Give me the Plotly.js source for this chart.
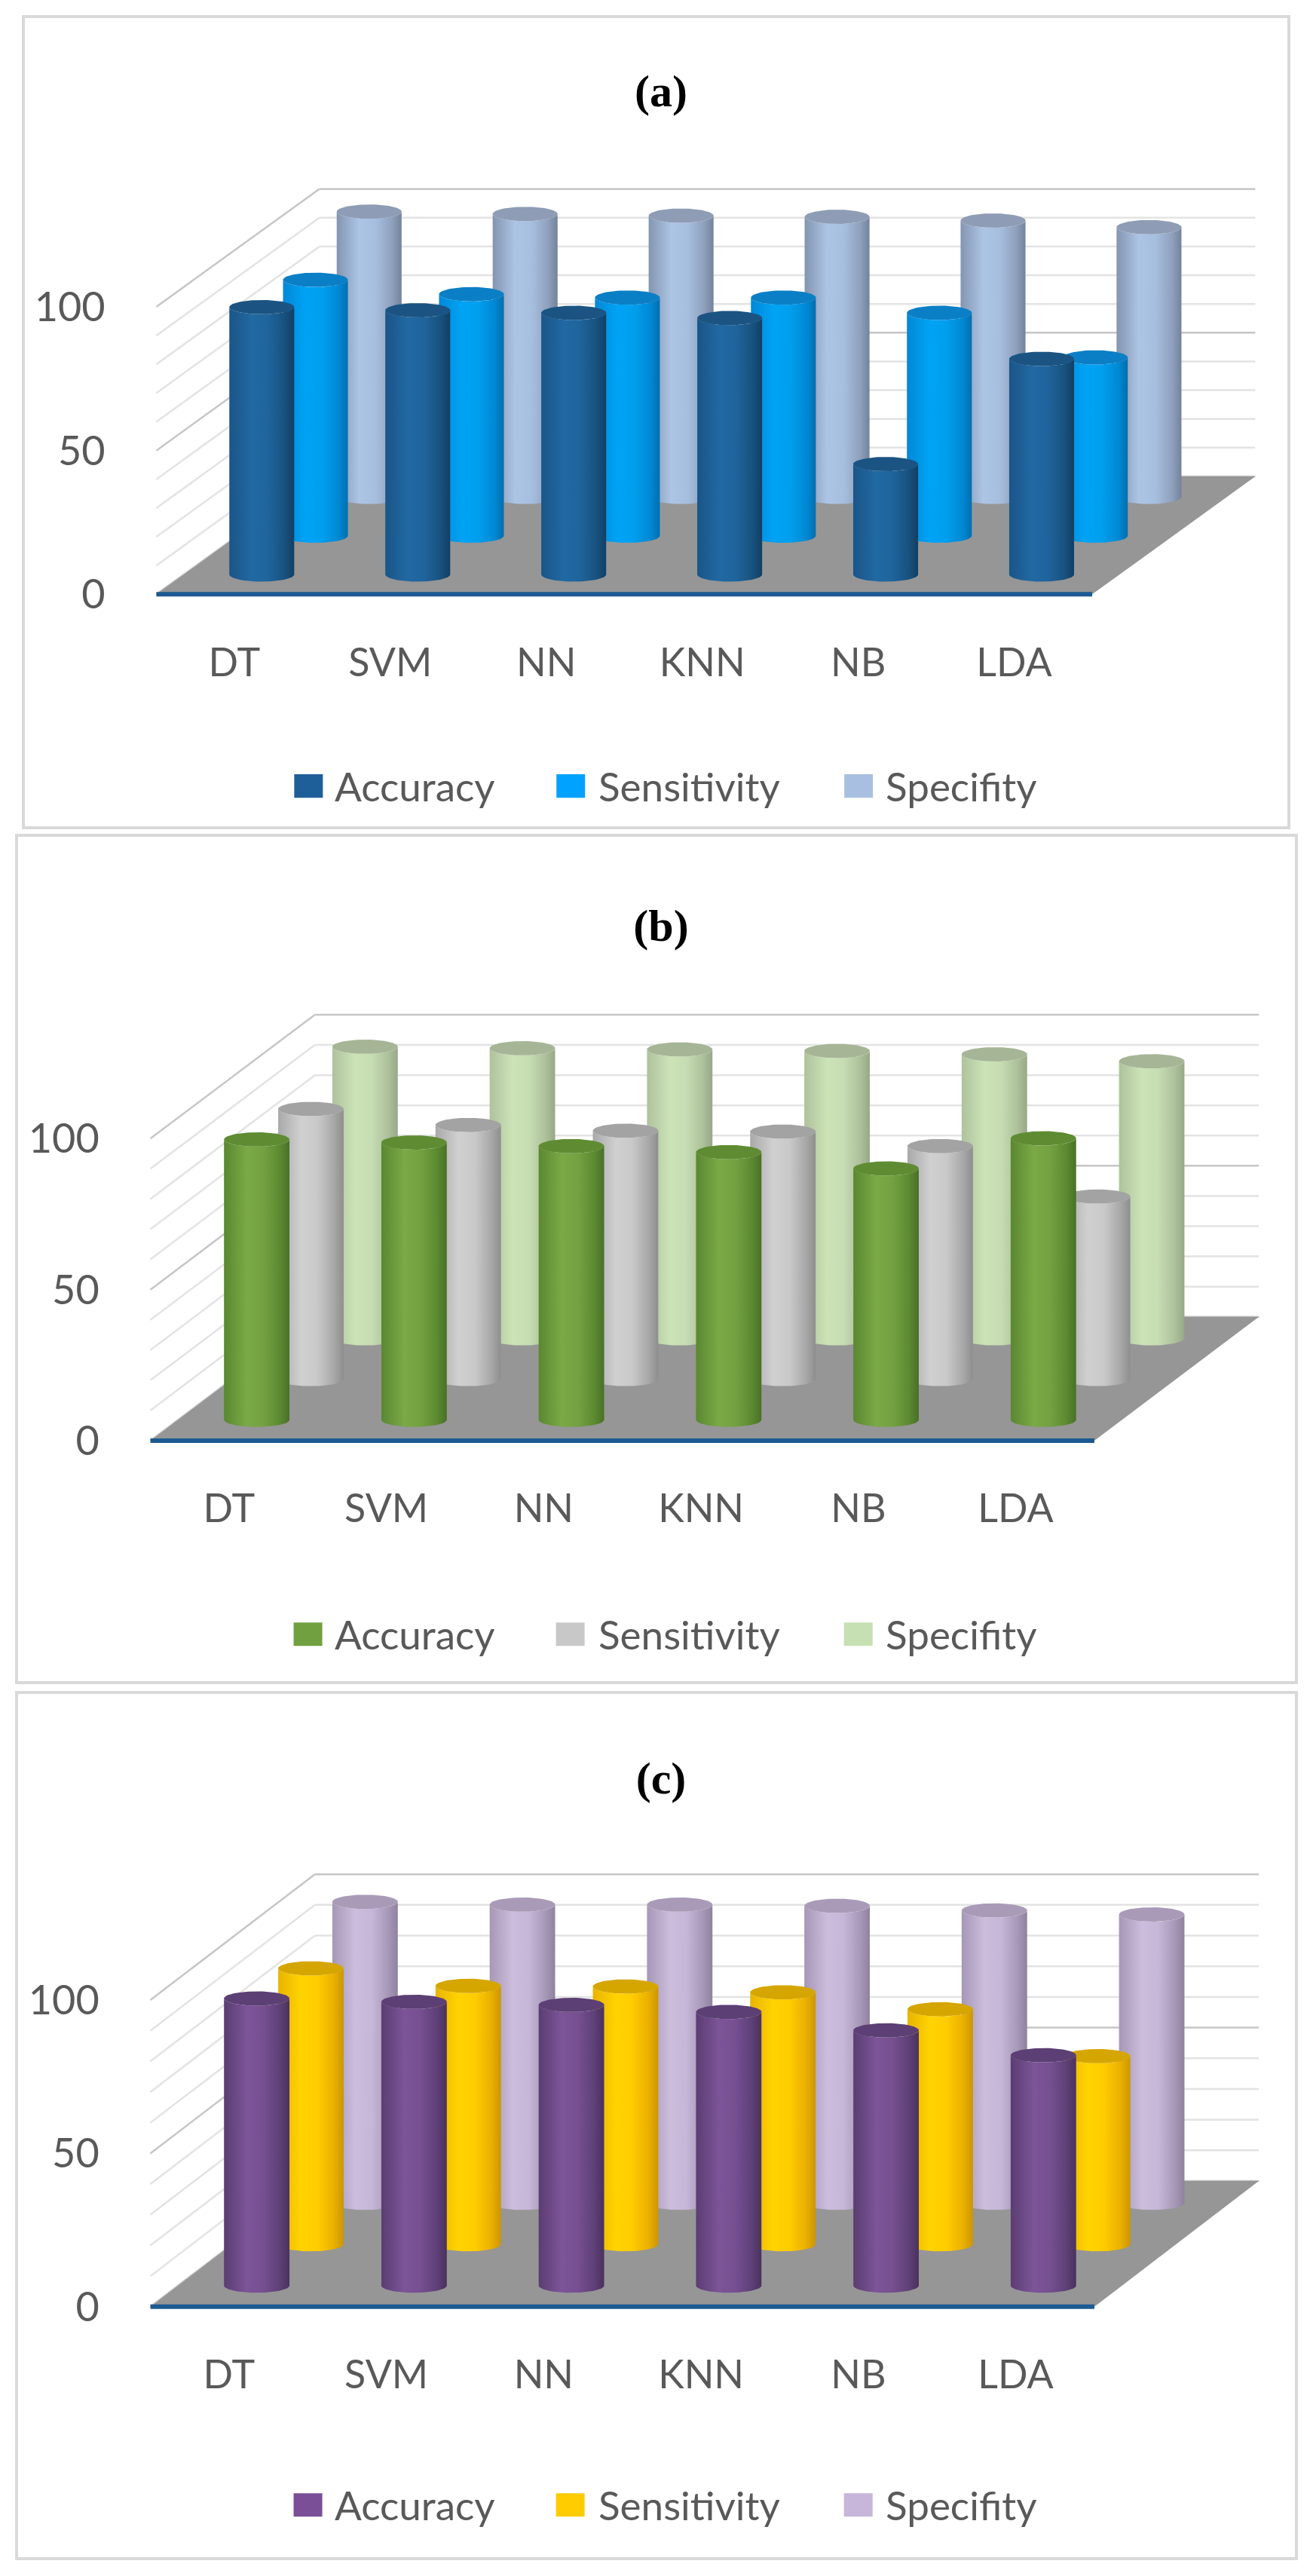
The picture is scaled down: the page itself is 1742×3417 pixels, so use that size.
<!DOCTYPE html>
<html>
<head>
<meta charset="utf-8">
<script src="https://cdn.plot.ly/plotly-3.0.1.min.js"></script>
<style>
    body { margin: 0; background: #fff; width: 1742px; height: 3417px; position: relative; overflow: hidden; }
    .panel { position: absolute; border: 4px solid #d9d9d9; box-sizing: border-box; background: #fff; }
</style>
</head>
<body>
<div class="panel" id="panel_a"><div id="chart_a"></div></div>
<div class="panel" id="panel_b"><div id="chart_b"></div></div>
<div class="panel" id="panel_c"><div id="chart_c"></div></div>
<script>
// DATA
const categories = ['DT', 'SVM', 'NN', 'KNN', 'NB', 'LDA'];
const seriesNames = ['Accuracy', 'Sensitivity', 'Specifity'];
const yTickVals = [0, 50, 100];

const accuracyA    = [93.0, 91.9, 91.0, 89.2, 38.4, 75.0];
const sensitivityA = [89.0, 84.0, 82.8, 82.8, 77.5, 62.0];
const specifityA   = [99.2, 98.4, 97.8, 97.4, 96.1, 93.8];

const accuracyB    = [92.8, 91.8, 90.6, 88.6, 83.2, 93.2];
const sensitivityB = [89.4, 84.1, 82.2, 81.9, 77.1, 60.4];
const specifityB   = [96.5, 96.0, 95.6, 95.1, 94.0, 91.7];

const accuracyC    = [93.6, 92.5, 91.5, 89.2, 83.2, 75.1];
const sensitivityC = [89.9, 84.2, 84.0, 82.1, 76.6, 61.3];
const specifityC   = [98.1, 97.2, 97.2, 96.8, 95.3, 94.0];

// LOOK
const FONT = 'Lato, "Liberation Sans", sans-serif';
const TEXT_COLOR = '#595959';
const ROW_DEPTH = [6.9, 20.4, 33.9];   // depth of each row, in y units
const FLOOR_DEPTH = 41;
const SLANT = 0.0255;                  // x shift (categories) per y unit of depth
const RADIUS = 0.208;                  // cylinder radius, category units
const CAP_PX = 9.5;                    // half height of the ellipses, px
const X_RANGE = [-0.56, 6.65];
const Y_RANGE = [-2, 143];
const BORDER = 4;

const panels = [
    {
        key: 'a', title: '(a)',
        values: [accuracyA, sensitivityA, specifityA],
        box: {left: 29, top: 20, width: 1683, height: 1080},
        origin: {x: 207, y: 788}, ppu: 3.81, catW: 207,
        titleY: 120, legendY: 1042,
        legendColors: ['#1f5f99', '#00a2ff', '#a9bfe1'],
        capColors: ['#1b5482', '#0b7fc6', '#8e9db5'],
        bodyScales: [
            [[0, '#1a5587'], [0.35, '#2169a3'], [0.6, '#1f649c'], [0.85, '#18527f'], [1, '#123f64']],
            [[0, '#0388d6'], [0.35, '#00a3f5'], [0.6, '#009fee'], [0.85, '#0089d4'], [1, '#006fb0']],
            [[0, '#8395b0'], [0.35, '#adc5e5'], [0.6, '#a7bfdf'], [0.85, '#8fa1bd'], [1, '#74839c']]
        ]
    },
    {
        key: 'b', title: '(b)',
        values: [accuracyB, sensitivityB, specifityB],
        box: {left: 20, top: 1106, width: 1702, height: 1128},
        origin: {x: 200, y: 1911}, ppu: 4.01, catW: 208.7,
        titleY: 1227, legendY: 2168,
        legendColors: ['#70a040', '#c8c8c8', '#c7e0b3'],
        capColors: ['#5f8c33', '#a3a3a3', '#a6b596'],
        bodyScales: [
            [[0, '#5a8731'], [0.35, '#7aa946'], [0.6, '#74a141'], [0.85, '#5c8a31'], [1, '#4a7027']],
            [[0, '#a9a9a9'], [0.35, '#d0d0d0'], [0.6, '#c9c9c9'], [0.85, '#a8a8a8'], [1, '#8e8e8e']],
            [[0, '#aec29c'], [0.35, '#cce3b7'], [0.6, '#c6dcb2'], [0.85, '#adc19b'], [1, '#97a886']]
        ]
    },
    {
        key: 'c', title: '(c)',
        values: [accuracyC, sensitivityC, specifityC],
        box: {left: 20, top: 2243, width: 1702, height: 1153},
        origin: {x: 200, y: 3060}, ppu: 4.07, catW: 208.7,
        titleY: 2358, legendY: 3323,
        legendColors: ['#7a4f97', '#ffcc00', '#c7b6d9'],
        capColors: ['#5c3f74', '#d6a600', '#a99bb7'],
        bodyScales: [
            [[0, '#5a3d72'], [0.35, '#7c5498'], [0.6, '#764f91'], [0.85, '#5e4077'], [1, '#4a315e']],
            [[0, '#e8b400'], [0.35, '#ffd300'], [0.6, '#ffcc00'], [0.85, '#eab000'], [1, '#cc9600']],
            [[0, '#a697b6'], [0.35, '#ccbddc'], [0.6, '#c6b6d7'], [0.85, '#a798b8'], [1, '#8f819f']]
        ]
    }
];

// legend squares and text, absolute px (x)
const legendSquares = [[390, 428], [738, 776], [1120, 1158]];
const legendTextX = [442, 792, 1173];


function ellipseArc(xc, yc, rx, ry, t0, t1, n) {
    let xs = [], ys = [];
    for (let k = 0; k <= n; k++) {
        let t = t0 + (t1 - t0) * k / n;
        xs.push(xc + rx * Math.cos(t));
        ys.push(yc + ry * Math.sin(t));
    }
    return [xs, ys];
}


function cylinderTraces(panel, s, i) {

    let v = panel.values[s][i];
    let d = ROW_DEPTH[s];
    let xc = i + d * SLANT;
    let e = CAP_PX / panel.ppu;

    // body: bottom front arc, right side, top front arc back to the left
    let bottom = ellipseArc(xc, d, RADIUS, e, Math.PI, 2 * Math.PI, 40);
    let top = ellipseArc(xc, d + v, RADIUS, e, 2 * Math.PI, Math.PI, 40);
    let bx = bottom[0].concat(top[0], [bottom[0][0]]);
    let by = bottom[1].concat(top[1], [bottom[1][0]]);

    let cap = ellipseArc(xc, d + v, RADIUS, e, 0, 2 * Math.PI, 80);

    let body = {
        type: 'scatter', x: bx, y: by, mode: 'lines', fill: 'toself',
        line: {width: 0, color: panel.legendColors[s]},
        fillcolor: panel.legendColors[s],
        fillgradient: {type: 'horizontal', colorscale: panel.bodyScales[s]},
        hoverinfo: 'skip', showlegend: false
    };
    let lid = {
        type: 'scatter', x: cap[0], y: cap[1], mode: 'lines', fill: 'toself',
        line: {width: 0, color: panel.capColors[s]},
        fillcolor: panel.capColors[s],
        hoverinfo: 'skip', showlegend: false
    };
    return [body, lid];
}


function wallShapes() {

    let shapes = [];
    let left = -0.5;
    let right = categories.length - 0.5;
    let backX0 = left + FLOOR_DEPTH * SLANT;
    let backX1 = right + FLOOR_DEPTH * SLANT;

    for (let g = 0; g <= 100; g += 10) {
        let major = (g % 50 === 0);
        let col = major ? '#c6c6c6' : '#e3e3e3';
        // back wall
        shapes.push({type: 'line', layer: 'below', x0: backX0, x1: backX1, y0: FLOOR_DEPTH + g, y1: FLOOR_DEPTH + g,
            line: {color: col, width: 2.5}});
        // side wall
        shapes.push({type: 'line', layer: 'below', x0: left, x1: backX0, y0: g, y1: FLOOR_DEPTH + g,
            line: {color: col, width: 2.5}});
    }

    // floor
    shapes.push({
        type: 'path', layer: 'below',
        path: 'M ' + left + ',0 L ' + right + ',0 L ' + backX1 + ',' + FLOOR_DEPTH +
              ' L ' + backX0 + ',' + FLOOR_DEPTH + ' Z',
        fillcolor: '#969696', line: {width: 0}
    });

    // front edge
    shapes.push({type: 'line', layer: 'below', x0: left, x1: right, y0: 0, y1: 0,
        line: {color: '#1c5a92', width: 6}});

    return shapes;
}


function drawPanel(panel) {

    let el = document.getElementById('panel_' + panel.key);
    el.style.left = panel.box.left + 'px';
    el.style.top = panel.box.top + 'px';
    el.style.width = panel.box.width + 'px';
    el.style.height = panel.box.height + 'px';

    let innerLeft = panel.box.left + BORDER;
    let innerTop = panel.box.top + BORDER;
    let innerW = panel.box.width - 2 * BORDER;
    let innerH = panel.box.height - 2 * BORDER;

    // origin = pixel of (x=-0.5, y=0)
    let plotW = (X_RANGE[1] - X_RANGE[0]) * panel.catW;
    let plotH = (Y_RANGE[1] - Y_RANGE[0]) * panel.ppu;
    let plotLeft = panel.origin.x - (-0.5 - X_RANGE[0]) * panel.catW;
    let plotBottom = panel.origin.y + (0 - Y_RANGE[0]) * panel.ppu;

    let ml = plotLeft - innerLeft;
    let mb = innerTop + innerH - plotBottom;
    let mr = innerW - ml - plotW;
    let mt = innerH - mb - plotH;

    // absolute px -> paper
    let px = (x) => (x - plotLeft) / plotW;
    let py = (y) => (plotBottom - y) / plotH;

    // back row first so the front rows cover it
    let traces = [];
    for (let s = seriesNames.length - 1; s >= 0; s--) {
        categories.forEach((c, i) => {
            traces = traces.concat(cylinderTraces(panel, s, i));
        });
    }

    let shapes = wallShapes();
    let annotations = [];

    seriesNames.forEach((name, s) => {
        shapes.push({
            type: 'rect', xref: 'paper', yref: 'paper',
            x0: px(legendSquares[s][0]), x1: px(legendSquares[s][1]),
            y0: py(panel.legendY + 15.5), y1: py(panel.legendY - 15.5),
            fillcolor: panel.legendColors[s], line: {width: 0}
        });
        annotations.push({
            xref: 'paper', yref: 'paper', x: px(legendTextX[s]), y: py(panel.legendY),
            xanchor: 'left', yanchor: 'middle', showarrow: false, text: name,
            font: {family: FONT, size: 53, color: TEXT_COLOR}
        });
    });

    let layout = {
        width: innerW,
        height: innerH,
        margin: {l: ml, r: mr, t: mt, b: mb, pad: 0},
        paper_bgcolor: '#ffffff',
        plot_bgcolor: 'rgba(0,0,0,0)',
        showlegend: false,
        title: {
            text: panel.title,
            font: {family: '"Liberation Serif", "DejaVu Serif", serif', size: 60, color: '#000000', weight: 'bold'},
            xref: 'container', yref: 'container',
            x: (877 - innerLeft) / innerW, y: 1 - (panel.titleY - innerTop) / innerH,
            xanchor: 'center', yanchor: 'middle'
        },
        xaxis: {
            range: X_RANGE,
            tickvals: categories.map((c, i) => i),
            ticktext: categories,
            showgrid: false, zeroline: false, showline: false,
            ticks: 'outside', ticklen: 45 - 2 * panel.ppu, tickcolor: 'rgba(0,0,0,0)',
            tickfont: {family: FONT, size: 52, color: TEXT_COLOR},
            fixedrange: true
        },
        yaxis: {
            range: Y_RANGE,
            tickvals: yTickVals,
            showgrid: false, zeroline: false, showline: false,
            ticks: 'outside', ticklen: 56 - 0.06 * panel.catW, tickcolor: 'rgba(0,0,0,0)',
            tickfont: {family: FONT, size: 54, color: TEXT_COLOR},
            fixedrange: true
        },
        shapes: shapes,
        annotations: annotations
    };

    Plotly.newPlot('chart_' + panel.key, traces, layout, {displayModeBar: false, staticPlot: true});
}


panels.forEach((p) => drawPanel(p));
</script>
</body>
</html>
